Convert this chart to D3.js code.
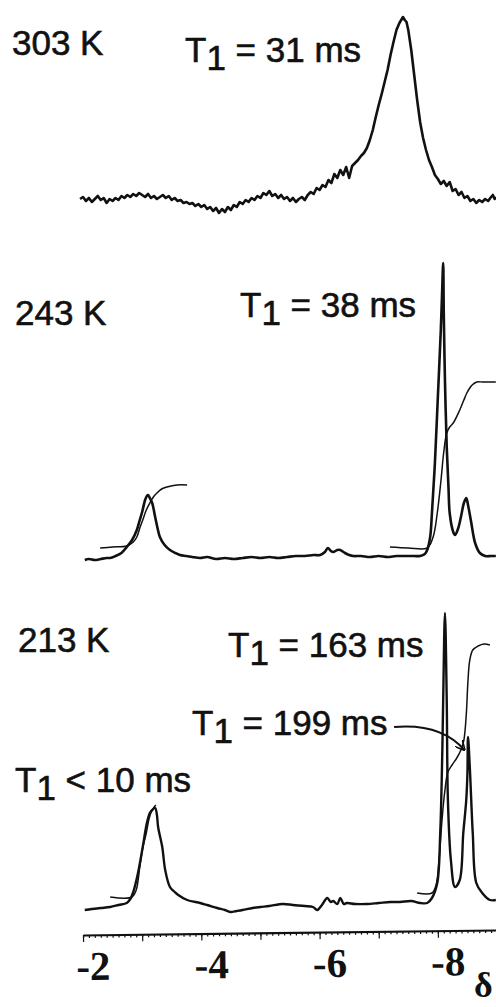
<!DOCTYPE html>
<html>
<head>
<meta charset="utf-8">
<script src="https://cdn.jsdelivr.net/npm/d3@7"></script>
<style>
  html, body { margin: 0; padding: 0; background: #fff; }
  svg { display: block; }
  .lbl { font-family: "Liberation Sans", Arial, Helvetica, sans-serif; font-size: 35px; fill: #111; stroke: #111; stroke-width: 0.6px; white-space: pre; }
  .axlbl { font-family: "Liberation Serif", "Times New Roman", serif; font-weight: bold; font-size: 41px; fill: #111; }
  .axtitle { font-family: "Liberation Serif", "Times New Roman", serif; font-weight: bold; font-size: 36px; fill: #111; }
</style>
</head>
<body>
<svg id="chart" width="496" height="1007"></svg>
<script>
// chemical shift (ppm) vs intensity (arbitrary units, baseline = 0)
const SPEC_303 = [
  [-1.95,1],[-2.00,3],[-2.05,-1],[-2.10,2],[-2.15,-2],[-2.20,1],[-2.25,4],[-2.30,0],[-2.35,2],[-2.40,-3],
  [-2.45,1],[-2.50,-1],[-2.55,2],[-2.60,0],[-2.65,4],[-2.70,2],[-2.75,5],[-2.80,3],[-2.85,6],[-2.90,4],
  [-2.95,7],[-3.00,5],[-3.05,3],[-3.10,6],[-3.15,2],[-3.20,4],[-3.25,1],[-3.30,3],[-3.35,5],[-3.40,2],
  [-3.45,4],[-3.50,0],[-3.55,2],[-3.60,-1],[-3.65,0],[-3.70,-3],[-3.75,-2],[-3.80,-4],[-3.85,-3],[-3.90,-6],
  [-3.95,-4],[-4.00,-7],[-4.05,-5],[-4.10,-9],[-4.15,-7],[-4.20,-11],[-4.25,-8],[-4.30,-13],[-4.35,-9],[-4.40,-12],
  [-4.45,-7],[-4.50,-10],[-4.55,-5],[-4.60,-7],[-4.65,-2],[-4.70,-4],[-4.75,0],[-4.80,-2],[-4.85,2],[-4.90,0],
  [-4.95,4],[-5.00,2],[-5.05,7],[-5.10,5],[-5.15,9],[-5.20,4],[-5.25,6],[-5.30,2],[-5.35,5],[-5.40,1],
  [-5.45,3],[-5.50,-1],[-5.55,2],[-5.60,-2],[-5.65,1],[-5.70,3],[-5.75,0],[-5.80,5],[-5.85,8],[-5.90,6],
  [-5.95,12],[-6.00,10],[-6.05,15],[-6.10,13],[-6.15,20],[-6.20,17],[-6.25,26],[-6.30,22],[-6.35,30],[-6.40,25],
  [-6.45,33],[-6.50,22],[-6.55,34],[-6.60,37],[-6.65,40],[-6.70,44],[-6.75,47],[-6.80,52],[-6.85,60],[-6.90,70],
  [-6.95,83],[-7.00,95],[-7.05,106],[-7.10,118],[-7.15,130],[-7.20,145],[-7.25,158],[-7.30,170],[-7.35,177],[-7.38,180],
  [-7.41,183],[-7.44,180],[-7.47,178],[-7.50,170],[-7.55,150],[-7.60,125],[-7.65,100],[-7.70,78],[-7.75,62],[-7.80,50],
  [-7.85,40],[-7.90,33],[-7.95,25],[-8.00,21],[-8.05,16],[-8.10,19],[-8.15,14],[-8.20,18],[-8.25,9],[-8.30,11],
  [-8.35,5],[-8.40,8],[-8.45,2],[-8.50,4],[-8.55,-1],[-8.60,1],[-8.65,-3],[-8.70,0],[-8.75,-2],[-8.80,1],
  [-8.85,-1],[-8.90,3],[-8.93,5],[-8.96,1],[-8.98,3]
];

const SPEC_243 = [
  [-2.03,-2],[-2.10,-1],[-2.20,-2],[-2.30,-1],[-2.40,0],[-2.46,0],[-2.55,2],[-2.65,5],[-2.74,11],[-2.83,18],
  [-2.91,28],[-2.96,38],[-3.00,46],[-3.05,58],[-3.08,62],[-3.10,63],[-3.13,60],[-3.17,55],[-3.22,41],[-3.26,30],
  [-3.30,21],[-3.38,13],[-3.47,8],[-3.56,5],[-3.64,3],[-3.75,2],[-3.85,1],[-3.98,0],[-4.10,1],[-4.25,-1],
  [-4.40,0],[-4.55,-1],[-4.70,0],[-4.85,1],[-5.00,0],[-5.15,1],[-5.30,0],[-5.45,1],[-5.60,2],[-5.75,2],
  [-5.90,3],[-6.01,3],[-6.09,6],[-6.14,10],[-6.19,7],[-6.23,6],[-6.30,8],[-6.35,8],[-6.43,5],[-6.50,3],
  [-6.57,2],[-6.70,2],[-6.85,1],[-7.00,2],[-7.15,1],[-7.30,2],[-7.45,2],[-7.60,2],[-7.70,2],[-7.78,4],
  [-7.82,8],[-7.87,21],[-7.90,45],[-7.95,95],[-8.00,161],[-8.05,228],[-8.07,262],[-8.09,295],[-8.10,245],[-8.12,178],
  [-8.15,111],[-8.18,70],[-8.20,45],[-8.26,26],[-8.29,23],[-8.34,29],[-8.39,41],[-8.44,55],[-8.48,60],[-8.51,53],
  [-8.56,37],[-8.63,15],[-8.71,5],[-8.80,2],[-8.90,2],[-8.98,2]
];
const INT_243_A = [
  [-2.29,10],[-2.50,11],[-2.74,12],[-2.85,16],[-2.91,21],[-2.96,30],[-3.01,38],[-3.07,48],[-3.13,55],[-3.19,61],
  [-3.25,65],[-3.33,69],[-3.42,71],[-3.59,73],[-3.76,73]
];
const INT_243_B = [
  [-7.19,11],[-7.50,10],[-7.82,10],[-7.92,21],[-7.99,45],[-8.05,76],[-8.10,106],[-8.15,125],[-8.20,131],[-8.26,135],
  [-8.37,148],[-8.44,158],[-8.49,165],[-8.54,170],[-8.58,173],[-8.66,176],[-8.76,176],[-8.98,176]
];

const SPEC_213 = [
  [-2.03,0],[-2.15,1],[-2.30,2],[-2.46,3],[-2.60,5],[-2.74,7],[-2.80,11],[-2.85,18],[-2.93,37],[-3.01,63],
  [-3.08,87],[-3.13,97],[-3.17,100],[-3.22,102],[-3.25,95],[-3.27,83],[-3.34,63],[-3.39,40],[-3.47,23],[-3.55,18],
  [-3.61,15],[-3.76,10],[-3.98,7],[-4.10,5],[-4.27,2],[-4.40,0],[-4.49,-2],[-4.60,-1],[-4.70,0],[-4.87,2],
  [-5.00,3],[-5.15,4],[-5.38,6],[-5.55,5],[-5.75,4],[-5.89,3],[-5.96,0],[-6.04,5],[-6.13,12],[-6.19,8],
  [-6.23,9],[-6.30,6],[-6.35,12],[-6.41,6],[-6.46,7],[-6.60,6],[-6.80,6],[-7.00,7],[-7.20,8],[-7.36,8],
  [-7.55,9],[-7.70,7],[-7.82,7],[-7.90,12],[-7.99,27],[-8.04,77],[-8.07,143],[-8.09,210],[-8.12,297],[-8.15,210],
  [-8.17,110],[-8.22,50],[-8.29,23],[-8.37,30],[-8.43,77],[-8.48,110],[-8.50,137],[-8.51,173],[-8.54,143],[-8.59,77],
  [-8.65,27],[-8.75,17],[-8.88,10],[-8.98,10]
];
const INT_213_A = [
  [-2.46,13],[-2.83,13],[-2.90,20],[-2.96,43],[-3.01,62],[-3.07,77],[-3.12,92],[-3.17,100],[-3.23,105]
];
const INT_213_B = [
  [-7.65,17],[-7.90,17],[-7.97,25],[-8.02,50],[-8.07,90],[-8.12,120],[-8.17,138],[-8.24,145],[-8.32,152],[-8.39,160],
  [-8.44,170],[-8.48,195],[-8.51,230],[-8.54,250],[-8.59,260],[-8.68,264],[-8.78,266],[-8.88,265]
];

// arrow in 213 K panel: start, control, tip  [ppm, intensity]
const ARROW_213 = [[-7.26,183],[-8.05,187],[-8.45,160]];

const TEMPS = ['303 K', '243 K', '213 K'];
const T1_LABELS = [['=', '31 ms'], ['=', '38 ms'], ['=', '163 ms'], ['=', '199 ms'], ['<', '10 ms']];
const AXIS_DOMAIN = [-2, -9];
const AXIS_LABELS = [-2, -4, -6, -8];
const AXIS_TITLE = 'δ';

const svg = d3.select('#chart');
const x = d3.scaleLinear().domain(AXIS_DOMAIN).range([83, 497]);

// one y scale per trace, baseline pixel differs
function yAt(base) { return d3.scaleLinear().domain([0, 300]).range([base, base - 300]); }

const panels = [
  { base: 200, spec: SPEC_303, ints: [], w: 2.6, curve: d3.curveLinear },
  { base: 558, spec: SPEC_243, ints: [INT_243_A, INT_243_B], w: 2.6, curve: d3.curveCatmullRom.alpha(0.5) },
  { base: 910, spec: SPEC_213, ints: [INT_213_A, INT_213_B], w: 2.4, curve: d3.curveCatmullRom.alpha(0.5) }
];

panels.forEach(function (p) {
  const y = yAt(p.base);
  const line = d3.line().x(function (d) { return x(d[0]); }).y(function (d) { return y(d[1]); }).curve(p.curve);
  const g = svg.append('g');
  p.ints.forEach(function (arr) {
    g.append('path').attr('d', line(arr)).attr('fill', 'none')
      .attr('stroke', '#111').attr('stroke-width', 1.5).attr('stroke-linejoin', 'round');
  });
  g.append('path').attr('d', line(p.spec)).attr('fill', 'none')
    .attr('stroke', '#111').attr('stroke-width', p.w).attr('stroke-linejoin', 'round');
});

// arrow
svg.append('defs').append('marker').attr('id', 'ah')
  .attr('viewBox', '0 0 10 10').attr('refX', 9).attr('refY', 5)
  .attr('markerWidth', 10).attr('markerHeight', 10).attr('markerUnits', 'userSpaceOnUse').attr('orient', 'auto')
  .append('path').attr('d', 'M0,0 L10,5 L0,10').attr('fill', 'none').attr('stroke', '#111').attr('stroke-width', 1.6);
(function () {
  const y = yAt(panels[2].base);
  const a = ARROW_213;
  svg.append('path')
    .attr('d', 'M' + x(a[0][0]) + ',' + y(a[0][1]) + ' Q' + x(a[1][0]) + ',' + y(a[1][1]) + ' ' + x(a[2][0]) + ',' + y(a[2][1]))
    .attr('fill', 'none').attr('stroke', '#111').attr('stroke-width', 2).attr('marker-end', 'url(#ah)');
})();

// temperature labels
const tempPos = [[12, 55], [15, 325], [18, 652]];
TEMPS.forEach(function (t, i) {
  svg.append('text').attr('class', 'lbl').attr('x', tempPos[i][0]).attr('y', tempPos[i][1]).text(t);
});

// T1 labels
const t1Pos = [[185, 62], [240, 317], [228, 657], [192, 735], [15, 792]];
T1_LABELS.forEach(function (t, i) {
  const tx = svg.append('text').attr('class', 'lbl').attr('x', t1Pos[i][0]).attr('y', t1Pos[i][1]);
  tx.append('tspan').text('T');
  tx.append('tspan').attr('dy', 8).text('1');
  tx.append('tspan').attr('dy', -8).text(' ' + t[0] + ' ' + t[1]);
});

// axis, slightly tilted like the scanned original
const ax = svg.append('g').attr('transform', 'rotate(-0.7,85,935)');
const minorG = ax.append('g').attr('transform', 'translate(0,935)')
  .call(d3.axisBottom(x).tickValues(d3.range(-2, -9.01, -0.1)).tickSize(3).tickSizeOuter(0).tickFormat(''));
const majorG = ax.append('g').attr('transform', 'translate(0,935)')
  .call(d3.axisBottom(x).tickValues(d3.range(-2, -9.01, -1)).tickSize(7).tickSizeOuter(0).tickFormat(''));
majorG.select('.domain').remove();
minorG.select('.domain').attr('stroke', '#111').attr('stroke-width', 2.2);
ax.selectAll('.tick line').attr('stroke', '#111').attr('stroke-width', 1.2);

ax.selectAll('text.axlbl').data(AXIS_LABELS).join('text')
  .attr('class', 'axlbl').attr('text-anchor', 'middle')
  .attr('x', function (d) { return x(d) + 10; }).attr('y', 980)
  .text(function (d) { return '-' + Math.abs(d); });

svg.append('text').attr('class', 'axtitle').attr('x', 474).attr('y', 997).text(AXIS_TITLE);
</script>
</body>
</html>
